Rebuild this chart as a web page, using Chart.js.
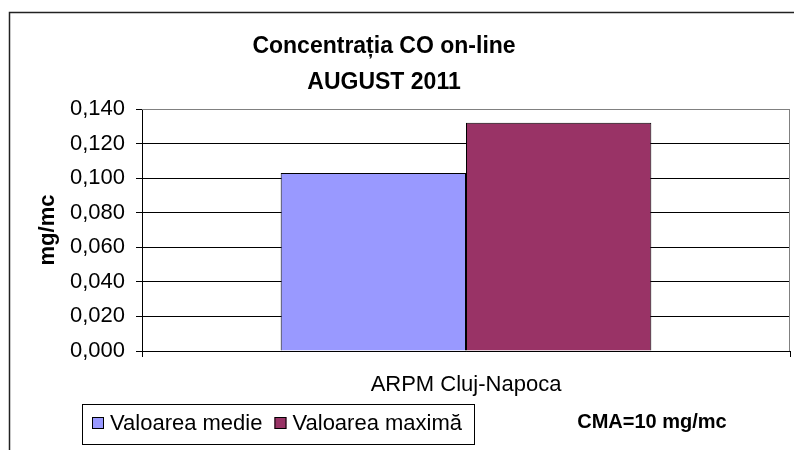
<!DOCTYPE html>
<html>
<head>
<meta charset="utf-8">
<script src="https://cdn.jsdelivr.net/npm/chart.js@4/dist/chart.umd.min.js"></script>
<style>
  body { margin: 0; background: #fff; }
  canvas { display: block; }
</style>
</head>
<body>
<canvas id="coChart" width="794" height="450"></canvas>
<script>
// data
const categories = ["ARPM Cluj-Napoca"];
const seriesNames = ["Valoarea medie", "Valoarea maximă"];
const valoareaMedie = [0.103];
const valoareaMaxima = [0.132];
const seriesColors = ["#9999FF", "#993366"];
const titleLines = ["Concentrația CO on-line", "AUGUST 2011"];
const yAxisTitle = "mg/mc";
const cmaNote = "CMA=10 mg/mc";

const FONT = '"Liberation Sans", Arial, sans-serif';

// outer frame, plot border, excel-style legend and the CMA note
const decorPlugin = {
  id: "decor",
  afterLayout(chart) {
    // excel centres the title a bit left of the canvas middle
    chart.titleBlock.left -= 21;
    chart.titleBlock.right -= 21;
  },
  beforeDraw(chart) {
    const ctx = chart.ctx;
    ctx.save();
    ctx.fillStyle = "#fff";
    ctx.fillRect(0, 0, chart.width, chart.height);
    ctx.strokeStyle = "#222";
    ctx.lineWidth = 1.5;
    ctx.strokeRect(9.5, 12.5, chart.width + 20, chart.height + 20);
    ctx.restore();
  },
  beforeDatasetsDraw(chart) {
    const { ctx, chartArea: a } = chart;
    ctx.save();
    ctx.strokeStyle = "#808080";
    ctx.lineWidth = 1;
    ctx.beginPath();
    ctx.moveTo(a.left, Math.round(a.top) + 0.5);
    ctx.lineTo(Math.round(a.right) - 0.5, Math.round(a.top) + 0.5);
    ctx.lineTo(Math.round(a.right) - 0.5, a.bottom);
    ctx.stroke();
    ctx.restore();
  },
  afterDraw(chart) {
    const ctx = chart.ctx;
    const a = chart.chartArea;
    // legend box, left of centre under the axis
    const lx = Math.round(a.left - 60);
    const cy = 423;
    ctx.save();
    ctx.font = "22px " + FONT;
    ctx.textBaseline = "middle";
    ctx.textAlign = "left";
    let x = lx + 10;
    chart.data.datasets.forEach((ds, i) => {
      if (i > 0) x += 12;
      ctx.fillStyle = ds.backgroundColor;
      ctx.fillRect(x, cy - 6, 12, 12);
      ctx.strokeStyle = "#000";
      ctx.lineWidth = 1;
      ctx.strokeRect(x + 0.5, cy - 5.5, 11, 11);
      x += 18;
      ctx.fillStyle = "#000";
      ctx.fillText(ds.label, x, cy + 1);
      x += ctx.measureText(ds.label).width;
    });
    const rx = Math.round(x + 12);
    ctx.strokeStyle = "#000";
    ctx.lineWidth = 1;
    ctx.strokeRect(lx + 0.5, 404.5, rx - lx, 40);

    ctx.font = "bold 20px " + FONT;
    ctx.textAlign = "center";
    ctx.fillText(cmaNote, 652, 422);
    ctx.restore();
  }
};

const ctx = document.getElementById("coChart").getContext("2d");
new Chart(ctx, {
  type: "bar",
  data: {
    labels: categories,
    datasets: [
      {
        label: seriesNames[0],
        data: valoareaMedie,
        backgroundColor: seriesColors[0],
        borderColor: "#000",
        borderWidth: 1
      },
      {
        label: seriesNames[1],
        data: valoareaMaxima,
        backgroundColor: seriesColors[1],
        borderColor: "#000",
        borderWidth: 1
      }
    ]
  },
  options: {
    responsive: false,
    animation: false,
    devicePixelRatio: 1,
    layout: { padding: { left: 20, right: 4, top: 0, bottom: 47 } },
    datasets: { bar: { categoryPercentage: 0.572, barPercentage: 1.0 } },
    plugins: {
      title: {
        display: true,
        text: titleLines,
        color: "#000",
        font: { family: FONT, size: 23, weight: "bold", lineHeight: 36 / 23 },
        padding: { top: 28.5, bottom: 8.5 }
      },
      legend: { display: false },
      tooltip: { enabled: false }
    },
    scales: {
      x: {
        afterFit(scale) { scale.height = 52; },
        grid: {
          offset: true,
          drawOnChartArea: false,
          drawTicks: true,
          tickLength: 6,
          tickColor: "#000"
        },
        border: { color: "#000", width: 1 },
        ticks: {
          color: "#000",
          font: { family: FONT, size: 22 },
          padding: 15
        }
      },
      y: {
        min: 0,
        max: 0.14,
        afterFit(scale) { scale.width = 122; },
        grid: {
          color: c => (c.tick && c.tick.value >= 0.139 ? "#808080" : "#000"),
          lineWidth: 1,
          drawTicks: true,
          tickLength: 6,
          tickColor: "#000"
        },
        border: { color: "#000", width: 1 },
        ticks: {
          stepSize: 0.02,
          color: "#000",
          font: { family: FONT, size: 22 },
          padding: 11,
          callback: v => Number(v).toFixed(3).replace(".", ",")
        },
        title: {
          display: true,
          text: yAxisTitle,
          color: "#000",
          font: { family: FONT, size: 22, weight: "bold" },
          padding: { top: 15, bottom: 0 }
        }
      }
    }
  },
  plugins: [decorPlugin]
});
</script>
</body>
</html>
